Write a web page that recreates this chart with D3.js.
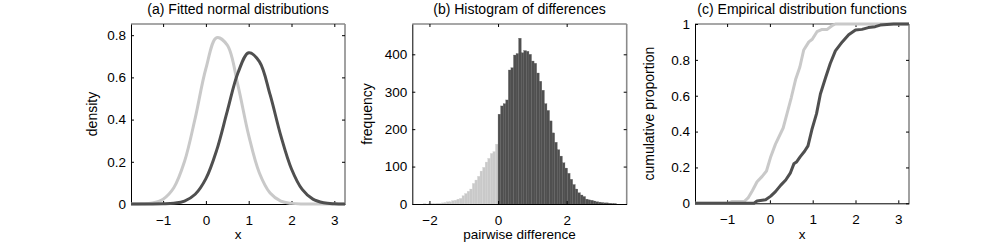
<!DOCTYPE html>
<html>
<head>
<meta charset="utf-8">
<script src="https://cdn.jsdelivr.net/npm/d3@7"></script>
<style>
  body { margin: 0; background: #fff; }
  text { font-family: "Liberation Sans", Arial, Helvetica, sans-serif; fill: #000; }
</style>
</head>
<body>
<svg id="chart" width="1003" height="242"></svg>
<script>
/*
 * Data
 */

// (a) fitted normal densities, sampled on a common x grid
const densityX = [-1.75, -1.5, -1.25, -1, -0.75, -0.5, -0.25, 0, 0.25, 0.5, 0.75,
  1, 1.25, 1.5, 1.75, 2, 2.25, 2.5, 2.75, 3, 3.25];
const densityLight = [0, 0.001, 0.005, 0.023, 0.077, 0.201, 0.407, 0.642, 0.788, 0.753, 0.561,
  0.325, 0.147, 0.052, 0.014, 0.003, 0, 0, 0, 0, 0];
const densityDark = [0, 0, 0, 0.001, 0.004, 0.014, 0.046, 0.120, 0.254, 0.440, 0.622,
  0.717, 0.675, 0.518, 0.324, 0.166, 0.069, 0.023, 0.006, 0.001, 0];

// (b) histogram of pairwise differences
const binStart = -2.25;
const binWidth = 0.075;
const countsBelowZero = [0, 1, 0, 1, 1, 1, 2, 2, 3, 4, 6, 6, 9, 10, 13, 15, 22, 28, 34, 40,
  55, 64, 74, 88, 98, 112, 122, 135, 140, 160];
const countsAboveZero = [240, 262, 268, 278, 358, 364, 398, 402, 443, 404, 410, 408, 400, 382,
  376, 350, 328, 304, 268, 250, 222, 190, 165, 145, 128, 110, 96, 82, 66, 52, 40, 30, 24, 20,
  13, 11, 10, 8, 6, 5, 4, 3, 3, 2, 1, 1, 0, 0];

// (c) empirical distribution functions
const ecdfLightX = [-1.75, -0.99, -0.88, -0.6, -0.51, -0.41, -0.3, -0.18, -0.08, 0.02, 0.13,
  0.31, 0.4, 0.5, 0.6, 0.7, 0.79, 0.91, 0.99, 1.1, 1.22, 1.34, 1.45, 1.53, 3.25];
const ecdfLightY = [0, 0, 0.01, 0.01, 0.03, 0.07, 0.12, 0.15, 0.18, 0.26, 0.33,
  0.42, 0.5, 0.59, 0.69, 0.76, 0.855, 0.9, 0.915, 0.957, 0.97, 0.97, 0.99, 1, 1];
const ecdfDarkX = [-1.75, -0.37, -0.3, -0.1, 0.02, 0.13, 0.25, 0.37, 0.48, 0.56, 0.62, 0.71,
  0.81, 0.89, 0.98, 1.09, 1.18, 1.3, 1.41, 1.53, 1.69, 1.84, 2.0, 2.15, 2.3, 2.46, 2.58, 2.89, 3.25];
const ecdfDarkY = [0, 0, 0.013, 0.02, 0.04, 0.065, 0.1, 0.13, 0.17, 0.22, 0.23, 0.26,
  0.29, 0.32, 0.41, 0.5, 0.61, 0.7, 0.78, 0.85, 0.9, 0.94, 0.967, 0.97, 0.98, 0.985, 0.994, 1, 1];

// tick labels
const xTicksAC = [-1, 0, 1, 2, 3];
const yTicksA = [0, 0.2, 0.4, 0.6, 0.8];
const xTicksB = [-2, 0, 2];
const yTicksB = [0, 100, 200, 300, 400];
const yTicksC = [0, 0.2, 0.4, 0.6, 0.8, 1];

const LIGHT = '#c9c9c9';
const DARK = '#4f4f4f';

let svg = d3.select('#chart');
svg.append('rect').attr('width', 1003).attr('height', 242).attr('fill', '#fff');

let fmt = d => d < 0 ? '\u2212' + Math.abs(d) : String(d);

function makePanel(p) {
  let g = svg.append('g').attr('transform', 'translate(' + p.left + ',' + p.top + ')');
  let x = d3.scaleLinear().domain(p.xDomain).range([0, p.width]);
  let y = d3.scaleLinear().domain(p.yDomain).range([p.height, 0]);

  // box: top/right drawn gray, left/bottom black
  g.append('line').attr('x1', 0).attr('x2', p.width).attr('y1', 0).attr('y2', 0)
    .attr('stroke', '#8a8a8a').attr('stroke-width', 1.6);
  g.append('line').attr('x1', p.width).attr('x2', p.width).attr('y1', 0).attr('y2', p.height)
    .attr('stroke', '#8a8a8a').attr('stroke-width', 1.6);

  let axes = [
    g.append('g').attr('transform', 'translate(0,' + p.height + ')')
      .call(d3.axisBottom(x).tickValues(p.xTicks).tickFormat(fmt).tickSizeInner(-3).tickSizeOuter(0).tickPadding(11)),
    g.append('g')
      .call(d3.axisLeft(y).tickValues(p.yTicks).tickFormat(fmt).tickSizeInner(-3).tickSizeOuter(0).tickPadding(5)),
    g.append('g')
      .call(d3.axisTop(x).tickValues(p.xTicks).tickFormat('').tickSizeInner(-3).tickSizeOuter(0)),
    g.append('g').attr('transform', 'translate(' + p.width + ',0)')
      .call(d3.axisRight(y).tickValues(p.yTicks).tickFormat('').tickSizeInner(-3).tickSizeOuter(0))
  ];
  axes.forEach(a => {
    a.attr('font-size', null).attr('font-family', null);
    a.selectAll('text').attr('font-size', 13.5);
  });
  axes[0].select('.domain').attr('stroke-width', 1);
  axes[2].select('.domain').remove();
  axes[3].select('.domain').remove();

  svg.append('text')
    .attr('x', p.left + p.width / 2).attr('y', 14)
    .attr('text-anchor', 'middle').attr('font-size', 14)
    .text(p.title);
  svg.append('text')
    .attr('x', p.left + p.width / 2).attr('y', 239.3)
    .attr('text-anchor', 'middle').attr('font-size', 13.5)
    .text(p.xLabel);
  svg.append('text')
    .attr('transform', 'translate(' + p.yLabelX + ',' + (p.top + p.height / 2) + ') rotate(-90)')
    .attr('text-anchor', 'middle').attr('font-size', 14)
    .text(p.yLabel);

  return { g: g, x: x, y: y };
}

/*
 * (a) Fitted normal distributions
 */
let pa = makePanel({
  left: 131, top: 24, width: 214, height: 180,
  xDomain: [-1.75, 3.25], yDomain: [0, 0.853],
  xTicks: xTicksAC, yTicks: yTicksA,
  title: '(a) Fitted normal distributions', xLabel: 'x', yLabel: 'density', yLabelX: 97
});

let densLine = vals => d3.line()
  .x((d, i) => pa.x(densityX[i]))
  .y(d => pa.y(d))
  .curve(d3.curveCatmullRom.alpha(0.5))(vals);

pa.g.append('path').attr('d', densLine(densityLight))
  .attr('fill', 'none').attr('stroke', LIGHT).attr('stroke-width', 3);
pa.g.append('path').attr('d', densLine(densityDark))
  .attr('fill', 'none').attr('stroke', DARK).attr('stroke-width', 3);

/*
 * (b) Histogram of differences
 */
let pb = makePanel({
  left: 412.3, top: 24, width: 214.4, height: 180,
  xDomain: [-2.5, 3.75], yDomain: [0, 481],
  xTicks: xTicksB, yTicks: yTicksB,
  title: '(b) Histogram of differences', xLabel: 'pairwise difference', yLabel: 'frequency', yLabelX: 372
});

let bins = countsBelowZero.map((c, i) => ({ lo: binStart + i * binWidth, count: c, fill: LIGHT }))
  .concat(countsAboveZero.map((c, i) => ({ lo: i * binWidth, count: c, fill: DARK })));

pb.g.insert('g', ':first-child').selectAll('rect')
  .data(bins)
  .join('rect')
    .attr('x', d => pb.x(d.lo))
    .attr('width', d => pb.x(d.lo + binWidth) - pb.x(d.lo))
    .attr('y', d => pb.y(d.count))
    .attr('height', d => pb.y(0) - pb.y(d.count))
    .attr('fill', d => d.fill)
    .attr('stroke', d => d.fill === DARK ? '#5e5e5e' : '#d2d2d2')
    .attr('stroke-width', 0.3);

/*
 * (c) Empirical distribution functions
 */
let pc = makePanel({
  left: 695, top: 24, width: 214, height: 179.3,
  xDomain: [-1.75, 3.25], yDomain: [0, 1],
  xTicks: xTicksAC, yTicks: yTicksC,
  title: '(c) Empirical distribution functions', xLabel: 'x', yLabel: 'cumulative proportion', yLabelX: 654
});

let ecdfLine = (xs, ys) => d3.line()
  .x((d, i) => pc.x(xs[i]))
  .y(d => pc.y(d))(ys);

pc.g.append('path').attr('d', ecdfLine(ecdfLightX, ecdfLightY))
  .attr('fill', 'none').attr('stroke', LIGHT).attr('stroke-width', 3).attr('stroke-linejoin', 'round');
pc.g.append('path').attr('d', ecdfLine(ecdfDarkX, ecdfDarkY))
  .attr('fill', 'none').attr('stroke', DARK).attr('stroke-width', 3).attr('stroke-linejoin', 'round');
</script>
</body>
</html>
